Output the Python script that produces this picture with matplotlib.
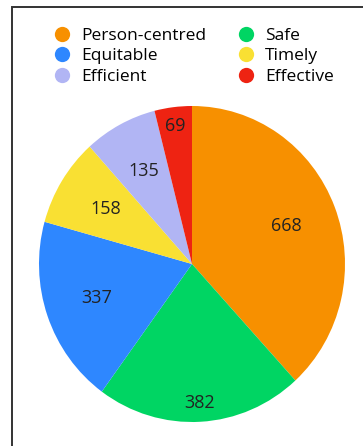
import matplotlib
matplotlib.use("Agg")
import matplotlib.pyplot as plt
from matplotlib.lines import Line2D
from matplotlib.patches import Rectangle
import numpy as np

plt.rcParams['font.family'] = ['Open Sans', 'DejaVu Sans']

# data
labels = ['Person-centred', 'Safe', 'Equitable', 'Timely', 'Efficient', 'Effective']
values = [668, 382, 337, 158, 135, 69]
colors = ['#F79000', '#00D563', '#2E87FF', '#F9E033', '#B1B5F4', '#EE2312']
label_dist = [0.66, 0.88, 0.66, 0.66, 0.67, 0.88]

W, H = 363, 446
fig = plt.figure(figsize=(W / 100, H / 100), dpi=100)

# outer frame (only top and left visible)
fig.patches.append(Rectangle((12 / W, -0.1), 1.2, 0.1 + (H - 7) / H, transform=fig.transFigure,
                             fill=False, edgecolor='#333333', linewidth=1.4))

cx, cy, rx, ry = 192, 264, 153, 158
ax = fig.add_axes([(cx - rx) / W, (H - cy - ry) / H, 2 * rx / W, 2 * ry / H])
wedges, _ = ax.pie(values, colors=colors, startangle=90, counterclock=False,
                   wedgeprops=dict(linewidth=0))
ax.set_aspect('auto')
ax.set_xlim(-1, 1)
ax.set_ylim(-1, 1)
ax.axis('off')

for w, v, d in zip(wedges, values, label_dist):
    a = np.deg2rad((w.theta1 + w.theta2) / 2)
    ax.text(d * np.cos(a), d * np.sin(a), str(v), ha='center', va='center',
            fontsize=13, color='#222222')

# legend, row order: Person-centred/Safe, Equitable/Timely, Efficient/Effective
order = [0, 2, 4, 1, 3, 5]
handles = [Line2D([], [], marker='o', linestyle='', markersize=11,
                  markerfacecolor=colors[i], markeredgewidth=0) for i in order]
fig.legend(handles, [labels[i] for i in order], ncol=2, loc='upper left',
           bbox_to_anchor=(53 / W, 1 - 28 / H), frameon=False, fontsize=12.5,
           handletextpad=0.6, columnspacing=1.8, labelspacing=0.24,
           handlelength=1.0, borderpad=0, borderaxespad=0)

fig.savefig('out.png', dpi=100)
